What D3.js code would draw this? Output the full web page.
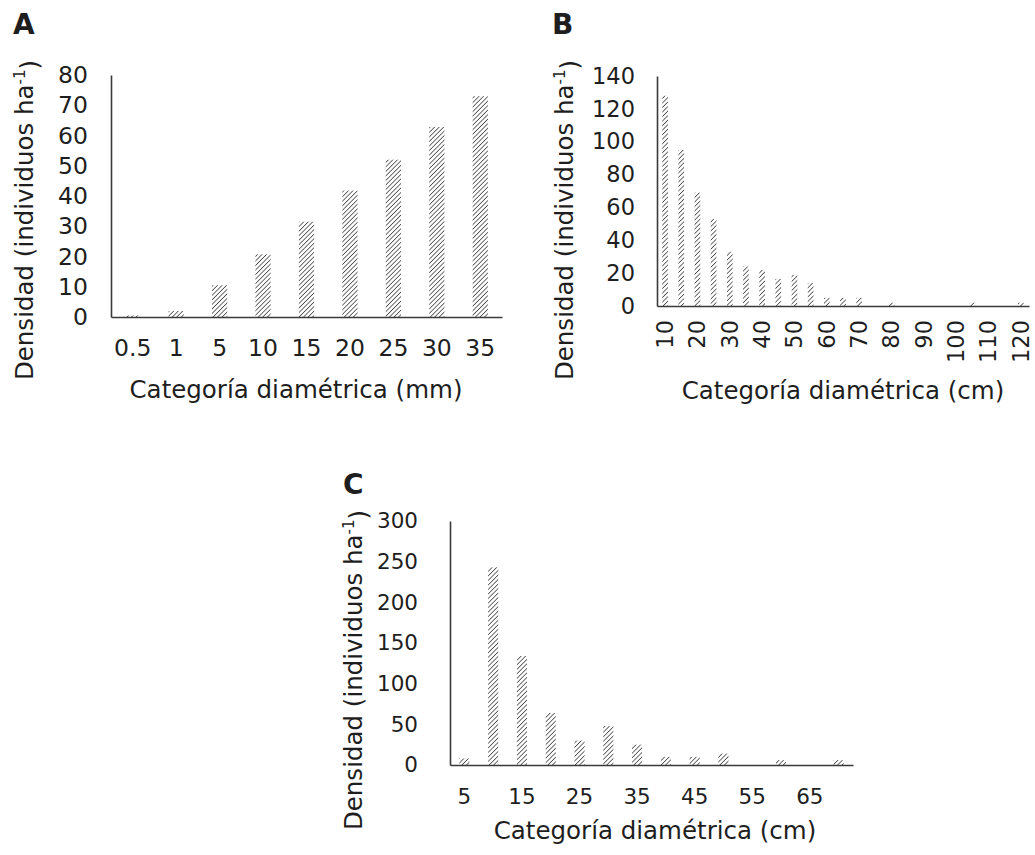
<!DOCTYPE html>
<html lang="en">
<head>
<meta charset="utf-8">
<title>Densidad por categoría diamétrica</title>
<script src="https://cdn.jsdelivr.net/npm/d3@7"></script>
<style>
  body { margin: 0; background: #fff; }
  text { font-family: "DejaVu Sans", Verdana, sans-serif; fill: #1e1e1e; }
  .axis path { stroke: #3a3a3a; stroke-width: 1.6; }
  .axis text { fill: #1e1e1e; font-family: "DejaVu Sans", Verdana, sans-serif; }
</style>
</head>
<body>
<svg id="chart" width="1035" height="855"></svg>
<script>
// panel A - diameter classes in mm
const catA = ['0.5', '1', '5', '10', '15', '20', '25', '30', '35'];
const valA = [0.5, 2, 10.5, 20.7, 31.5, 41.8, 52, 62.8, 73];
const ticksA = [0, 10, 20, 30, 40, 50, 60, 70, 80];

// panel B - diameter classes in cm
const catB = ['10', '15', '20', '25', '30', '35', '40', '45', '50', '55', '60', '65',
  '70', '75', '80', '85', '90', '95', '100', '105', '110', '115', '120'];
const valB = [128, 95, 69, 53, 33, 24, 22, 16.5, 19, 14, 5, 5, 5, 0, 2, 0, 0, 0, 0, 2, 0, 0, 2];
const ticksB = [0, 20, 40, 60, 80, 100, 120, 140];
const labelsB = ['10', '20', '30', '40', '50', '60', '70', '80', '90', '100', '110', '120'];

// panel C - diameter classes in cm
const catC = ['5', '10', '15', '20', '25', '30', '35', '40', '45', '50', '55', '60', '65', '70'];
const valC = [8, 243, 134, 64, 30, 48, 25, 10, 10, 14, 0, 6, 0, 6];
const ticksC = [0, 50, 100, 150, 200, 250, 300];
const labelsC = ['5', '15', '25', '35', '45', '55', '65'];

const svg = d3.select('#chart');

// hatch fill
svg.append('defs').append('pattern')
  .attr('id', 'hatch')
  .attr('patternUnits', 'userSpaceOnUse')
  .attr('width', 3.2)
  .attr('height', 3.2)
  .attr('patternTransform', 'rotate(45)')
  .append('line')
  .attr('x1', 0).attr('y1', 0)
  .attr('x2', 0).attr('y2', 3.2)
  .attr('stroke', '#4a4a4a')
  .attr('stroke-width', 1.6);

function panel(opt) {
  const g = svg.append('g');

  const x = d3.scaleBand()
    .domain(opt.cats)
    .range(opt.xr)
    .paddingInner(0.65)
    .paddingOuter(0.325);

  const y = d3.scaleLinear()
    .domain([0, opt.ticks[opt.ticks.length - 1]])
    .range(opt.yr);

  g.selectAll('.bar')
    .data(opt.vals)
    .enter().append('rect')
    .attr('class', 'bar')
    .attr('x', (d, i) => x(opt.cats[i]))
    .attr('width', x.bandwidth())
    .attr('y', (d) => y(d))
    .attr('height', (d) => y(0) - y(d))
    .attr('fill', 'url(#hatch)');

  const yAxis = g.append('g')
    .attr('class', 'axis')
    .attr('transform', `translate(${opt.xr[0]},0)`)
    .call(d3.axisLeft(y).tickValues(opt.ticks).tickSize(0).tickSizeOuter(0).tickPadding(opt.yPad));

  const xAxis = g.append('g')
    .attr('class', 'axis')
    .attr('transform', `translate(0,${opt.yr[0]})`)
    .call(d3.axisBottom(x).tickValues(opt.labels || opt.cats).tickSize(0).tickSizeOuter(0).tickPadding(opt.xPad));

  yAxis.selectAll('text').style('font-size', opt.tickFont + 'px');
  xAxis.selectAll('text').style('font-size', opt.tickFont + 'px');

  if (opt.rotate) {
    xAxis.selectAll('text')
      .attr('transform', 'rotate(-90)')
      .attr('text-anchor', 'end')
      .attr('x', -opt.xPad)
      .attr('y', 0)
      .attr('dy', '0.35em');
  }

  // panel letter
  g.append('text')
    .attr('x', opt.letterPos[0])
    .attr('y', opt.letterPos[1])
    .style('font-size', '28px')
    .style('font-weight', '900')
    .text(opt.letter);

  // y title with superscript
  const yt = g.append('text')
    .attr('transform', `translate(${opt.yTitle[0]},${opt.yTitle[1]}) rotate(-90)`)
    .attr('text-anchor', 'middle')
    .style('font-size', '24.5px');
  yt.append('tspan').text('Densidad (individuos ha');
  yt.append('tspan').attr('dy', '-0.55em').style('font-size', '15px').text('-1');
  yt.append('tspan').attr('dy', '0.55em').text(')');

  g.append('text')
    .attr('x', opt.xTitle[0])
    .attr('y', opt.xTitle[1])
    .attr('text-anchor', 'middle')
    .style('font-size', '24.5px')
    .text(opt.xLabel);
}

panel({
  cats: catA, vals: valA, ticks: ticksA, tickFont: 23.5,
  xr: [111, 502], yr: [317, 75], yPad: 23, xPad: 22,
  letter: 'A', letterPos: [13, 34],
  yTitle: [33, 220], xTitle: [296, 398],
  xLabel: 'Categoría diamétrica (mm)'
});

panel({
  cats: catB, vals: valB, ticks: ticksB, labels: labelsB, rotate: true, tickFont: 22.5,
  xr: [657, 1029], yr: [306, 76], yPad: 22, xPad: 14,
  letter: 'B', letterPos: [552, 34],
  yTitle: [573, 220], xTitle: [843, 399],
  xLabel: 'Categoría diamétrica (cm)'
});

panel({
  cats: catC, vals: valC, ticks: ticksC, labels: labelsC, tickFont: 21.5,
  xr: [450, 853], yr: [765, 521], yPad: 32, xPad: 24,
  letter: 'C', letterPos: [343, 494],
  yTitle: [362, 670], xTitle: [655, 839],
  xLabel: 'Categoría diamétrica (cm)'
});
</script>
</body>
</html>
